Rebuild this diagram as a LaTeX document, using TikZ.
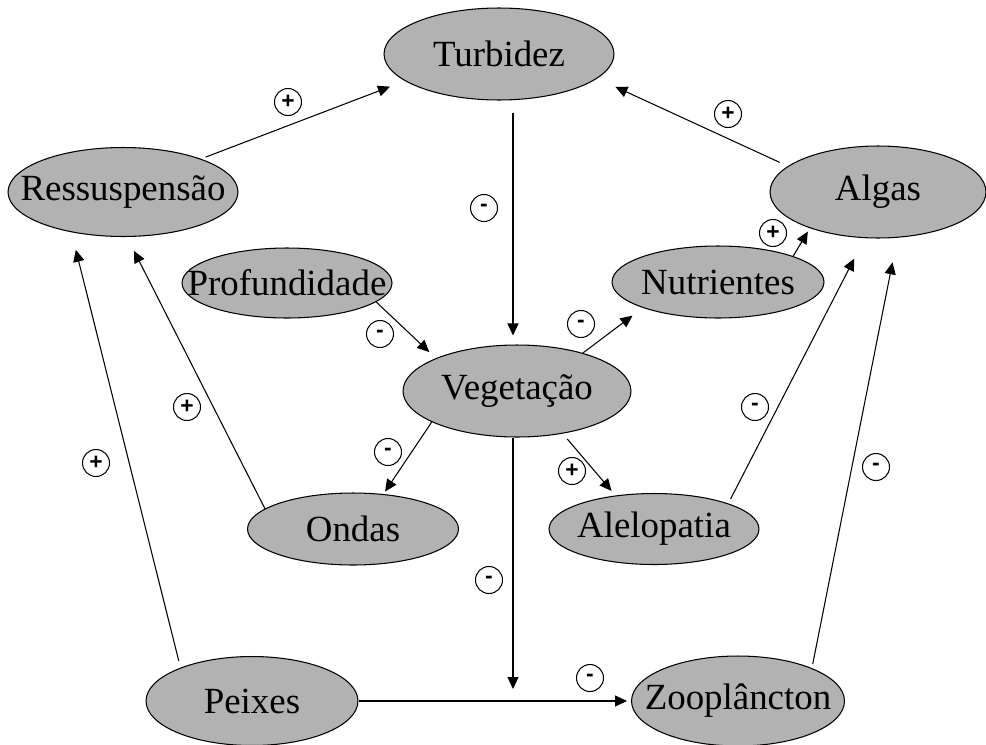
\documentclass[tikz,border=0pt]{standalone}
\usepackage{fontspec}
\setmainfont{Liberation Serif}
\newfontfamily\signfont{Liberation Sans}
\usetikzlibrary{shapes.geometric,arrows.meta}
\newcommand{\nm}[1]{\makebox[0pt]{#1}}

\begin{document}
\begin{tikzpicture}
    [x=0.02cm, y=-0.02cm, line width=0.6pt,
    >={Triangle[length=2.4mm,width=2.2mm]},
    box/.style={ellipse, draw, fill=black!30, inner sep=0pt,
      font=\fontsize{21}{25}\selectfont},
    sign/.style={circle, draw, inner sep=0pt, minimum size=0.54cm,
      font=\signfont\bfseries\fontsize{13}{14}\selectfont}]
    \useasboundingbox (0,0) rectangle (986,744);
    % boxes
    \node[box, minimum width=4.6cm, minimum height=1.84cm] (turb) at (499,54) {\nm{Turbidez}};
    \node[box, minimum width=4.6cm, minimum height=1.78cm] (ress) at (123,192) {\nm{Ressuspensão}};
    \node[box, minimum width=4.32cm, minimum height=1.84cm] (algas) at (878,192) {\nm{Algas}};
    \node[box, minimum width=4.2cm, minimum height=1.4cm] (prof) at (287,283) {\nm{Profundidade}};
    \node[box, minimum width=4.24cm, minimum height=1.44cm] (nutr) at (718,282) {\nm{Nutrientes}};
    \node[box, minimum width=4.56cm, minimum height=1.84cm] (veg) at (517,391) {\nm{Vegetação}};
    \node[box, minimum width=4.22cm, minimum height=1.44cm] (ondas) at (353,529) {\nm{Ondas}};
    \node[box, minimum width=4.2cm, minimum height=1.42cm] (alel) at (654,529) {\nm{Alelopatia}};
    \node[box, minimum width=4.24cm, minimum height=1.78cm] (peixes) at (252,701) {\nm{Peixes}};
    \node[box, minimum width=4.26cm, minimum height=1.8cm] (zoo) at (738,701) {\nm{Zooplâncton}};
    \coordinate (jn) at (513,701);
    % arrows
    \draw[->, shorten <=0.1cm, shorten >=0.32cm] (ress.23) -- (turb.196);
    \draw[->, shorten <=0.24cm, shorten >=0.18cm] (turb.south -| jn) -- (veg.north -| jn);
    \draw[->, shorten <=0.18cm, shorten >=0.4cm] (algas.164) -- (turb.346);
    \draw[->, shorten >=0.08cm] (nutr.19) -- (algas.208);
    \draw[->, shorten >=0.18cm] (prof.348) -- (veg.158);
    \draw[->, shorten >=0.26cm] (veg.30) -- (nutr.199);
    \draw[->, shorten >=0.06cm] (veg.200) -- (ondas.49);
    \draw[->, shorten <=0.14cm, shorten >=0.12cm] (veg.317) -- (alel.139);
    \draw[->, shorten >=0.24cm] (veg.south -| jn) -- (jn);
    \draw[->, shorten >=0.08cm] (peixes.east) -- (zoo.west);
    \draw[->, shorten >=0.31cm] (ondas.167) -- (ress.275);
    \draw[->, shorten <=0.14cm, shorten >=0.36cm] (peixes.155) -- (ress.218);
    \draw[->, shorten <=0.1cm, shorten >=0.46cm] (alel.19) -- (algas.254);
    \draw[->, shorten <=0.08cm, shorten >=0.5cm] (zoo.24) -- (algas.293);
    % signs
    \node[sign] (s1) at (288,102) {+};
    \node[sign] (s2) at (484,208) {-};
    \node[sign] (s3) at (728,114) {+};
    \node[sign] (s4) at (773,233) {+};
    \node[sign] (s5) at (380,334) {-};
    \node[sign] (s6) at (581,324) {-};
    \node[sign] (s7) at (388,452) {-};
    \node[sign] (s8) at (572,471) {+};
    \node[sign] (s9) at (489,580) {-};
    \node[sign] (s10) at (590,678) {-};
    \node[sign] (s11) at (187,407) {+};
    \node[sign] (s12) at (96,463) {+};
    \node[sign] (s13) at (755,407) {-};
    \node[sign] (s14) at (876,467) {-};
  \end{tikzpicture}
\end{document}
